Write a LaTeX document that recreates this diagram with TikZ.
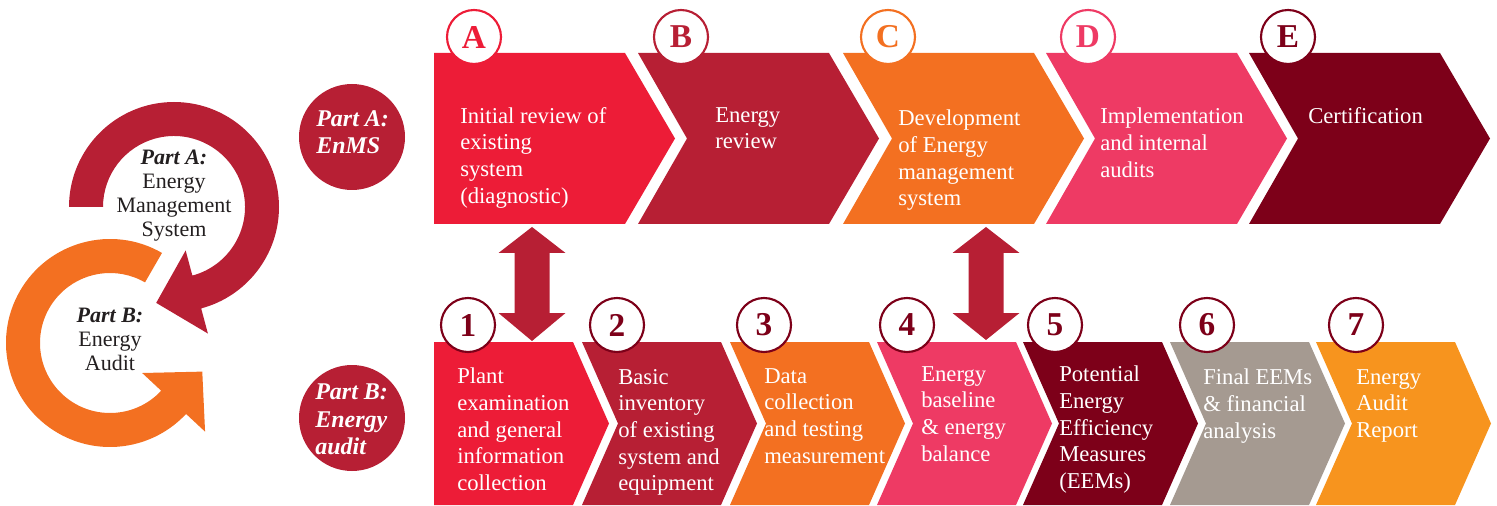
\documentclass[tikz,border=0pt]{standalone}
\usepackage{fontspec}
\setmainfont{Liberation Serif}
\usetikzlibrary{calc}

\definecolor{cRed}{HTML}{ED1C37}
\definecolor{cCrimson}{HTML}{B71F34}
\definecolor{cOrange}{HTML}{F37021}
\definecolor{cPink}{HTML}{EE3A64}
\definecolor{cMaroon}{HTML}{7D0019}
\definecolor{cTaupe}{HTML}{A59A91}
\definecolor{cAmber}{HTML}{F7941E}
\definecolor{cInk}{HTML}{231F20}

\begin{document}
\begin{tikzpicture}[x=0.75pt,y=-0.75pt,
    steptext/.style={anchor=north west,inner sep=0pt,align=left,text=white,font=\fontsize{17}{20}\selectfont},
    badge/.style={circle,draw=#1,text=#1,fill=white,line width=1.6pt,minimum size=40.5pt,inner sep=0pt,font=\fontsize{25}{25}\selectfont\bfseries},
    partdisc/.style={circle,fill=cCrimson,minimum size=79.5pt,inner sep=0pt},
    parttext/.style={anchor=north west,inner sep=0pt,align=left,text=white,font=\fontsize{18}{20.5}\selectfont\bfseries\itshape},
    ringtext/.style={anchor=north,inner sep=0pt,align=center,text=cInk,font=\fontsize{16.5}{18}\selectfont},
    linkarrow/.style={fill=cCrimson}]
        \useasboundingbox (0,0) rectangle (1497,506);

        % cycle on the left
        \fill[cCrimson]($(174,207)+(-180:105)$)arc[start angle=-180,end angle=75,radius=105]
            --($(174,207)+(75:131)$)--($(174,207)+(75:88)+(165:42)$)--($(174,207)+(75:45)$)
            --($(174,207)+(75:71)$)arc[start angle=75,end angle=-180,radius=71]--cycle;
        \fill[cOrange]($(110,343)+(-60:104)$)arc[start angle=-60,end angle=-317,radius=104]
            --($(110,343)+(43:130)$)--($(110,343)+(43:87)+(-47:42)$)--($(110,343)+(43:44)$)
            --($(110,343)+(43:70)$)arc[start angle=-317,end angle=-60,radius=70]--cycle;
        \node[ringtext](ringA)at(174,150){\textbf{\textit{Part A:}}\\Energy\\Management\\System};
        \node[ringtext](ringB)at(110,308){\textbf{\textit{Part B:}}\\Energy\\Audit};

        % part labels
        \node[partdisc](discA)at(352,137){};
        \node[partdisc](discB)at(352,418){};
        \node[parttext](partA)at(316,110){Part A:\\EnMS};
        \node[parttext](partB)at(315,384){Part B:\\Energy\\audit};

        % part A row
        \fill[cRed](434,53)--(625,53)--(675,138.5)--(625,224)--(434,224)--cycle;
        \fill[cCrimson](638,53)--(829,53)--(879,138.5)--(829,224)--(638,224)--(687,138.5)--cycle;
        \fill[cOrange](843,53)--(1034,53)--(1084,138.5)--(1034,224)--(843,224)--(892,138.5)--cycle;
        \fill[cPink](1046,53)--(1237,53)--(1287,138.5)--(1237,224)--(1046,224)--(1095,138.5)--cycle;
        \fill[cMaroon](1249,53)--(1440,53)--(1490,138.5)--(1440,224)--(1249,224)--(1298,138.5)--cycle;

        % part B row
        \fill[cRed](434,342)--(573,342)--(609,423.5)--(573,505)--(434,505)--cycle;
        \fill[cCrimson](582,342)--(721,342)--(757,423.5)--(721,505)--(582,505)--(618,423.5)--cycle;
        \fill[cOrange](730,342)--(869,342)--(905,423.5)--(869,505)--(730,505)--(766,423.5)--cycle;
        \fill[cPink](877,342)--(1016,342)--(1052,423.5)--(1016,505)--(877,505)--(913,423.5)--cycle;
        \fill[cMaroon](1023,342)--(1162,342)--(1198,423.5)--(1162,505)--(1023,505)--(1059,423.5)--cycle;
        \fill[cTaupe](1170,342)--(1309,342)--(1345,423.5)--(1309,505)--(1170,505)--(1206,423.5)--cycle;
        \fill[cAmber](1316,342)--(1455,342)--(1491,423.5)--(1455,505)--(1316,505)--(1352,423.5)--cycle;

        % links between the rows
        \coordinate(linkA)at(532,227);
        \coordinate(linkC)at(986,227);
        \fill[linkarrow](linkA)--++(33.5,26)--++(-16,0)--++(0,60)--++(16,0)--++(-33.5,28)
            --++(-33.5,-28)--++(16,0)--++(0,-60)--++(-16,0)--cycle;
        \fill[linkarrow](linkC)--++(33.5,26)--++(-16,0)--++(0,60)--++(16,0)--++(-33.5,27)
            --++(-33.5,-27)--++(16,0)--++(0,-60)--++(-16,0)--cycle;

        % badges
        \node[badge=cRed](bA)at(474,37){A};
        \node[badge=cCrimson](bB)at(681,37){B};
        \node[badge=cOrange](bC)at(888,37){C};
        \node[badge=cPink](bD)at(1088,37){D};
        \node[badge=cMaroon](bE)at(1288,37){E};
        \node[badge=cMaroon](b1)at(468,325){1};
        \node[badge=cMaroon](b2)at(617,325){2};
        \node[badge=cMaroon](b3)at(764,325){3};
        \node[badge=cMaroon](b4)at(907,325){4};
        \node[badge=cMaroon](b5)at(1055,325){5};
        \node[badge=cMaroon](b6)at(1207,325){6};
        \node[badge=cMaroon](b7)at(1356,325){7};

        % step texts
        \node[steptext](tA)at(460,107){Initial review of\\existing\\system\\(diagnostic)};
        \node[steptext](tB)at(715,107){Energy\\review};
        \node[steptext](tC)at(898,110){Development\\of Energy\\management\\system};
        \node[steptext](tD)at(1100,108){Implementation\\and internal\\audits};
        \node[steptext](tE)at(1308,107){Certification};
        \node[steptext](t1)at(457,368){Plant\\examination\\and general\\information\\collection};
        \node[steptext](t2)at(618,369){Basic\\inventory\\of existing\\system and\\equipment};
        \node[steptext](t3)at(764,368){Data\\collection\\and testing\\measurement};
        \node[steptext](t4)at(921,366){Energy\\baseline\\\& energy\\balance};
        \node[steptext](t5)at(1059,366){Potential\\Energy\\Efficiency\\Measures\\(EEMs)};
        \node[steptext](t6)at(1203,369){Final EEMs\\\& financial\\analysis};
        \node[steptext](t7)at(1356,369){Energy\\Audit\\Report};
    \end{tikzpicture}
\end{document}
